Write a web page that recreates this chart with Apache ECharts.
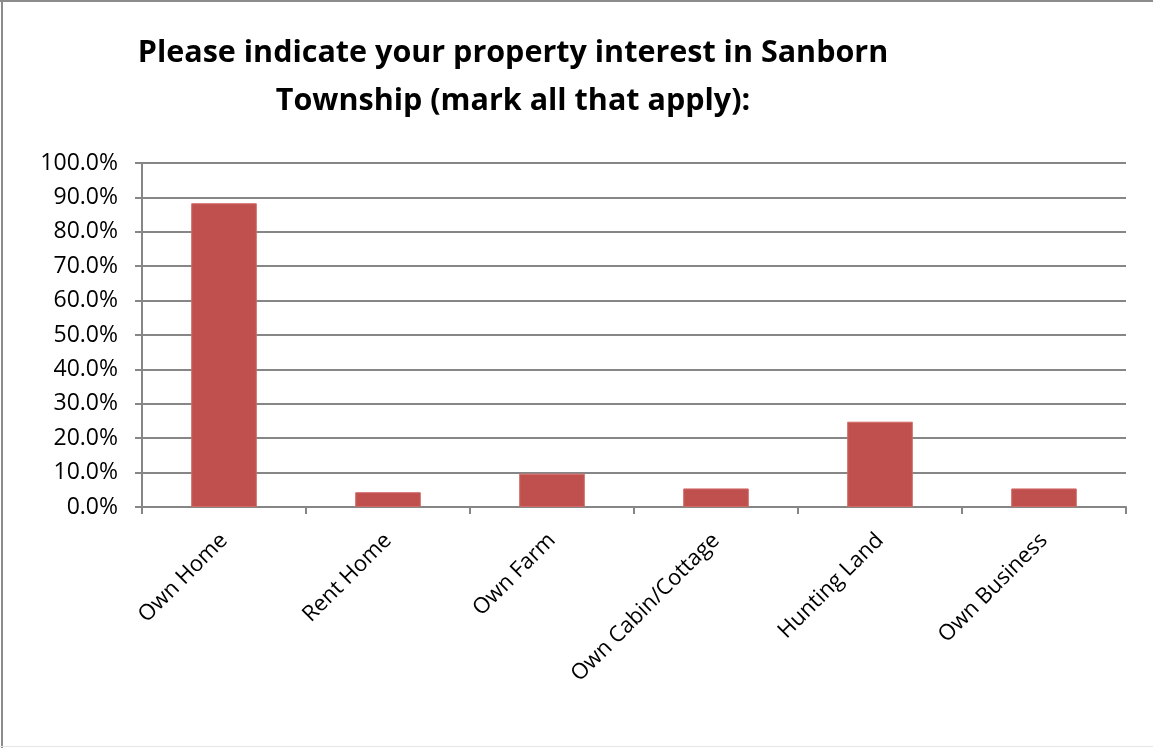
<!DOCTYPE html>
<html><head><meta charset="utf-8">
<script src="https://cdn.jsdelivr.net/npm/echarts@6/dist/echarts.min.js"></script>
<style>html,body{margin:0;padding:0;background:#fff}#c{width:1153px;height:748px}</style>
</head><body><div id="c"></div>
<script>
const titleLines = ["Please indicate your property interest in Sanborn", "Township (mark all that apply):"];
const categories = ["Own Home", "Rent Home", "Own Farm", "Own Cabin/Cottage", "Hunting Land", "Own Business"];
const values = [88.3, 4.3, 9.7, 5.4, 24.8, 5.4];
const yMin = 0, yMax = 100, yStep = 10;

const chart = echarts.init(document.getElementById('c'), null, {renderer: 'canvas'});
const font = '"Open Sans", "Liberation Sans", sans-serif';
chart.setOption({
  animation: false,
  backgroundColor: '#fff',
  title: {
    text: titleLines.join('\n'),
    left: 508, top: 24, textAlign: 'center',
    textStyle: {fontFamily: font, fontWeight: 'bold', fontSize: 30.5, lineHeight: 48, color: '#000'}
  },
  graphic: [
    {type: 'rect', shape: {x: 0, y: 0, width: 1153, height: 2}, style: {fill: '#8c8c8c'}},
    {type: 'rect', shape: {x: 1, y: 0, width: 2, height: 748}, style: {fill: '#8c8c8c'}},
    {type: 'rect', shape: {x: 0, y: 746, width: 1153, height: 1}, style: {fill: '#e6e6e6'}}
  ],
  grid: {left: 142, right: 27, top: 163, bottom: 241, containLabel: false},
  xAxis: {
    type: 'category', data: categories,
    axisLine: {lineStyle: {color: '#868686', width: 2}},
    axisTick: {show: true, length: 7, lineStyle: {color: '#868686', width: 2}, alignWithLabel: false},
    axisLabel: {rotate: 45, margin: 30, interval: 0, color: '#000', fontFamily: font, fontSize: 22}
  },
  yAxis: {
    type: 'value', min: yMin, max: yMax, interval: yStep,
    axisLine: {show: true, lineStyle: {color: '#868686', width: 2}},
    axisTick: {show: true, length: 7, lineStyle: {color: '#868686', width: 2}},
    splitLine: {lineStyle: {color: '#868686', width: 2}},
    axisLabel: {margin: 24, color: '#000', fontFamily: font, fontSize: 23,
      formatter: v => v.toFixed(1) + '%'}
  },
  series: [{
    type: 'bar', data: values, barWidth: '40%',
    itemStyle: {color: '#C0504D', borderColor: '#D26A67', borderWidth: 1}
  }]
});
</script></body></html>
